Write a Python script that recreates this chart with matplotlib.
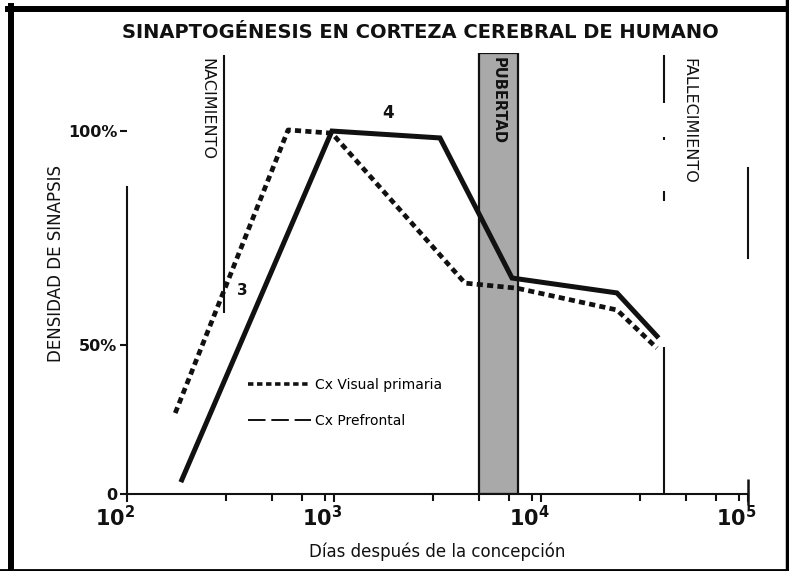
import matplotlib
matplotlib.use("Agg")
import matplotlib.pyplot as plt
from matplotlib.lines import Line2D
from matplotlib.ticker import FixedLocator, LogLocator, NullFormatter
import matplotlib.transforms as mtransforms

# ---------------- data ----------------
prefrontal_days = [184, 977, 3250, 7244, 23270, 36300]
prefrontal_density = [3.9, 100.0, 98.1, 59.5, 55.4, 43.5]

visual_days = [171, 600, 977, 4295, 7656, 23270, 36300]
visual_density = [22.3, 100.3, 99.4, 58.1, 56.7, 50.7, 40.2]

birth_day = 295
puberty_days = [5020, 7740]
death_day = 39500

xtick_values = [1e2, 1e3, 1e4, 1e5]
xtick_labels = [r"$\mathbf{10^2}$", r"$\mathbf{10^3}$", r"$\mathbf{10^4}$", r"$\mathbf{10^5}$"]
ytick_values = [0, 41, 100]
ytick_labels = ["0", "50%", "100%"]

title = "SINAPTOGÉNESIS EN CORTEZA CEREBRAL DE HUMANO"
xlabel = "Días después de la concepción"
ylabel = "DENSIDAD DE SINAPSIS"
legend_labels = ["Cx Visual primaria", "Cx Prefrontal"]

# ---------------- figure ----------------
plt.rcParams["font.family"] = ["DejaVu Sans"]
W, H = 789, 571
fig = plt.figure(figsize=(W / 100, H / 100), dpi=100)
ax = fig.add_axes([127 / W, 1 - 494 / H, 621 / W, 441 / H])
ax.set_xscale("log")
ax.set_xlim(1e2, 1e5)
ax.set_ylim(0, 121.5)

ink = "#111111"

# puberty band
ax.axvspan(puberty_days[0], puberty_days[1], ymin=0, ymax=1,
           facecolor="#a9a9a9", edgecolor=ink, linewidth=1.6, zorder=1)
ax.text((puberty_days[0] * puberty_days[1]) ** 0.5, 120.5, "PUBERTAD",
        rotation=-90, ha="center", va="top", fontsize=10.5,
        fontweight="bold", color=ink, zorder=2)

# birth line
ax.vlines(birth_day, 49.9, 121.0, color=ink, linewidth=1.5, zorder=2)
ax.text(birth_day * 0.9, 120.0, "NACIMIENTO", rotation=-90, ha="right",
        va="top", fontsize=11.5, color=ink)

# death line (broken at top, solid at bottom)
ax.vlines(death_day, 0, 40.5, color=ink, linewidth=1.5, zorder=2)
ax.vlines(death_day, 107.7, 121.0, color=ink, linewidth=1.5, zorder=2)
ax.vlines([death_day, death_day], [80.7, 97.5], [83.5, 98.3], color=ink,
          linewidth=1.5, zorder=2)
ax.text(death_day * 1.2, 120.0, "FALLECIMIENTO", rotation=-90, ha="left",
        va="top", fontsize=11.5, color=ink)

# curves
ax.plot(visual_days, visual_density, color=ink, linewidth=3.4,
        linestyle=(0, (1.3, 0.9)), solid_joinstyle="round", zorder=4)
ax.plot(prefrontal_days, prefrontal_density, color=ink, linewidth=3.6,
        solid_joinstyle="miter", zorder=5)

ax.text(1824, 105, "4", ha="center", va="center", fontsize=12,
        fontweight="bold", color=ink)
ax.text(359, 56, "3", ha="center", va="center", fontsize=11,
        fontweight="bold", color=ink)

# legend
handles = [Line2D([], [], color=ink, linewidth=2.6, linestyle=(0, (1.5, 1.0))),
           Line2D([], [], color=ink, linewidth=1.4, linestyle=(0, (9, 3)))]
ax.legend(handles, legend_labels, loc="upper left",
          bbox_to_anchor=(121 / 621, (494 - 378) / 441), frameon=False,
          fontsize=10, handlelength=4.5, handletextpad=0.35, labelspacing=1.55,
          borderpad=0, borderaxespad=0)

# spines
ax.spines["top"].set_visible(False)
ax.spines["left"].set_bounds(0, 84.6)
ax.spines["right"].set_bounds(65, 89.8)
for s in ["left", "bottom", "right"]:
    ax.spines[s].set_linewidth(1.5)
    ax.spines[s].set_color(ink)
# taller end tick at 10^5
ax.vlines(xtick_values[-1], -3.0, 4.0, color=ink, linewidth=1.8, clip_on=False)

# ticks
ax.xaxis.set_major_locator(FixedLocator(xtick_values))
ax.set_xticklabels(xtick_labels)
ax.xaxis.set_minor_locator(LogLocator(base=10, subs=(3, 5, 7, 9)))
ax.xaxis.set_minor_formatter(NullFormatter())
ax.tick_params(axis="x", which="major", direction="out", length=6, width=1.5,
               colors=ink, labelsize=15, pad=2)
ax.tick_params(axis="x", which="minor", direction="out", length=5, width=1.5,
               colors=ink)
offset = mtransforms.ScaledTranslation(-12 / 100, 0, fig.dpi_scale_trans)
for lab in ax.get_xticklabels():
    lab.set_transform(lab.get_transform() + offset)

ax.set_yticks(ytick_values)
ax.set_yticklabels(ytick_labels)
ax.tick_params(axis="y", direction="out", length=5, width=1.5, colors=ink,
               labelsize=11.5, pad=2)
for lab in ax.get_yticklabels():
    lab.set_fontweight("bold")
ax.tick_params(axis="y", which="minor", left=False)

ax.set_xlabel(xlabel, fontsize=12, color=ink, labelpad=9)
ax.set_ylabel(ylabel, fontsize=12, color=ink)
ax.yaxis.set_label_coords(-62 / 621, (494 - 263) / 441)

fig.text(420 / W, 1 - 33 / H, title, ha="center", va="center", fontsize=14,
         fontweight="bold", color=ink)

# outer frame
fig.add_artist(Line2D([11 / W, 11 / W], [0, 1 - 6 / H], transform=fig.transFigure,
                      color="black", linewidth=4.3))
fig.add_artist(Line2D([8 / W, 1], [1 - 9 / H, 1 - 9 / H], transform=fig.transFigure,
                      color="black", linewidth=4.3))
fig.add_artist(Line2D([0, 1], [1.5 / H, 1.5 / H], transform=fig.transFigure,
                      color="black", linewidth=2))
fig.add_artist(Line2D([1 - 2 / W, 1 - 2 / W], [0, 1], transform=fig.transFigure,
                      color="black", linewidth=2.5))

fig.savefig("out.png", dpi=100)
